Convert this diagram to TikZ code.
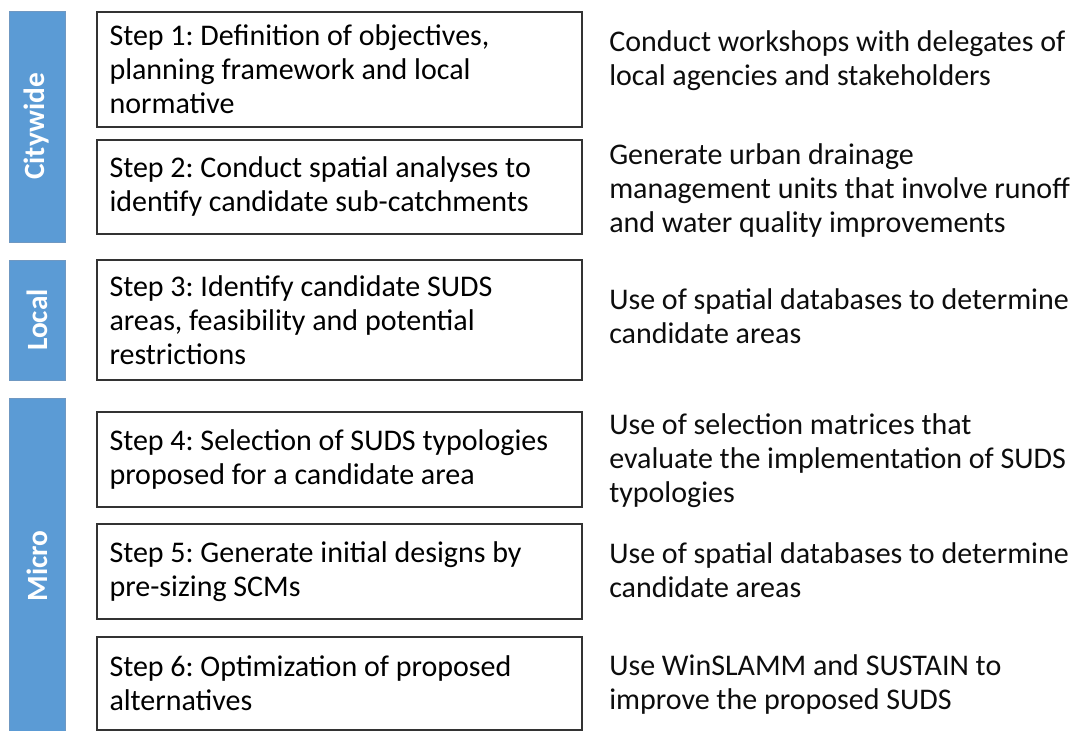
\documentclass[tikz,border=0pt]{standalone}
\usepackage{fontspec}
\setmainfont{Carlito}
\usetikzlibrary{positioning}

\definecolor{scaleblue}{HTML}{5B9BD5}
\definecolor{scaleedge}{HTML}{6F98C2}

\begin{document}
\frenchspacing
\begin{tikzpicture}[x=0.75pt,y=-0.75pt]
			\tikzstyle{stepbox}=[draw=black!80,line width=0.9pt,minimum width=363.75pt,minimum height=#1*0.75pt,text width=345pt,inner xsep=9pt,inner ysep=0pt,align=flush left,font=\fontsize{22.5}{25.5}\selectfont]
			\tikzstyle{scalebar}=[fill=scaleblue,draw=scaleedge,line width=0.6pt,rotate=90,minimum width=#1*0.75pt,minimum height=42pt,inner sep=0pt,text=white,font=\fontsize{22}{24}\selectfont\bfseries]
			\tikzstyle{method}=[anchor=west,inner sep=0pt,align=left,text=black!95,font=\fontsize{22.5}{25.5}\selectfont]

			\useasboundingbox (0,0) rectangle (1075,731);

			% scale of each group of steps
			\node (citywide) at (37,126.5) [scalebar=231] {Citywide};
			\node (local) at (37,320) [scalebar=120] {Local};
			\begin{scope}
				\clip (0,0) rectangle (1075,731);
				\node (micro) at (37,566) [scalebar=336] {Micro};
			\end{scope}

			% the six steps
			\node (step1) at (339.5,69.5) [stepbox=115] {Step 1: Definition of objectives,\\planning framework and local\\normative};
			\node (step2) at (339.5,187) [stepbox=94] {Step 2: Conduct spatial analyses to\\identify candidate sub-catchments};
			\node (step3) at (339.5,320) [stepbox=120] {Step 3: Identify candidate SUDS\\areas, feasibility and potential\\restrictions};
			\node (step4) at (339.5,459.5) [stepbox=95] {Step 4: Selection of SUDS typologies\\proposed for a candidate area};
			\node (step5) at (339.5,571.5) [stepbox=95] {Step 5: Generate initial designs by\\pre-sizing SCMs};
			\node (step6) at (339.5,683.5) [stepbox=93] {Step 6: Optimization of proposed\\alternatives};

			% how each step is carried out
			\node (how1) at (609,61) [method] {Conduct workshops with delegates of\\local agencies and stakeholders};
			\node (how2) at (609,191) [method] {Generate urban drainage\\management units that involve runoff\\and water quality improvements};
			\node (how3) at (609,316) [method] {Use of spatial databases to determine\\candidate areas};
			\node (how4) at (609,461) [method] {Use of selection matrices that\\evaluate the implementation of SUDS\\typologies};
			\node (how5) at (609,570.5) [method] {Use of spatial databases to determine\\candidate areas};
			\node (how6) at (609,684) [method] {Use WinSLAMM and SUSTAIN to\\improve the proposed SUDS};
		\end{tikzpicture}
\end{document}
